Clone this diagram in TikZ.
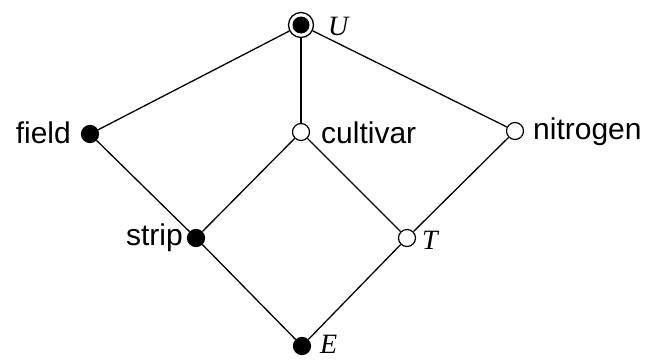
\documentclass[tikz,border=0pt]{standalone}
\usepackage{fontspec}
\setmainfont{Liberation Sans}
\newfontfamily\tnrfont{Liberation Serif}
\tikzset{
  x=1pt,y=-1pt,
  blackdot/.style={circle,fill=black,draw=black,line width=1.2pt,minimum size=17pt,inner sep=0pt},
  whitedot/.style={circle,fill=white,draw=black,line width=1.2pt,minimum size=17pt,inner sep=0pt},
  ringdot/.style={circle,fill=white,draw=black,line width=1.3pt,minimum size=25pt,inner sep=0pt},
  edge/.style={line width=1.3pt},
  lab/.style={font=\fontsize{30}{34}\selectfont,inner sep=0pt},
  mlab/.style={font=\tnrfont\itshape\fontsize{28}{32}\selectfont,inner sep=0pt},
}
\begin{document}
\begin{tikzpicture}
\useasboundingbox (0,0) rectangle (651,359);
\node[ringdot] (U) at (301,25) {};
\node[blackdot] (field) at (90,134) {};
\node[whitedot] (cultivar) at (301,132) {};
\node[whitedot] (nitrogen) at (515,131) {};
\node[blackdot] (strip) at (196,238) {};
\node[whitedot] (T) at (407,238) {};
\node[blackdot] (E) at (302,346) {};
\fill (U.center) circle (8.5pt);
\draw[edge] (U) -- (field);
\draw[edge] (U) -- (cultivar);
\draw[edge] (U) -- (nitrogen);
\draw[edge] (field) -- (strip);
\draw[edge] (cultivar) -- (strip);
\draw[edge] (cultivar) -- (T);
\draw[edge] (nitrogen) -- (T);
\draw[edge] (strip) -- (E);
\draw[edge] (T) -- (E);
\node[lab,anchor=east] (lfield) at (71,133) {field};
\node[lab,anchor=west] (lcultivar) at (321,133) {cultivar};
\node[lab,anchor=west] (lnitrogen) at (533,132) {nitrogen};
\node[lab,anchor=east] (lstrip) at (183,238) {strip};
\node[mlab,anchor=west] (lT) at (422,240) {T};
\node[mlab,anchor=west] (lU) at (328,26) {U};
\node[mlab,anchor=west] (lE) at (320,344) {E};
\end{tikzpicture}
\end{document}
